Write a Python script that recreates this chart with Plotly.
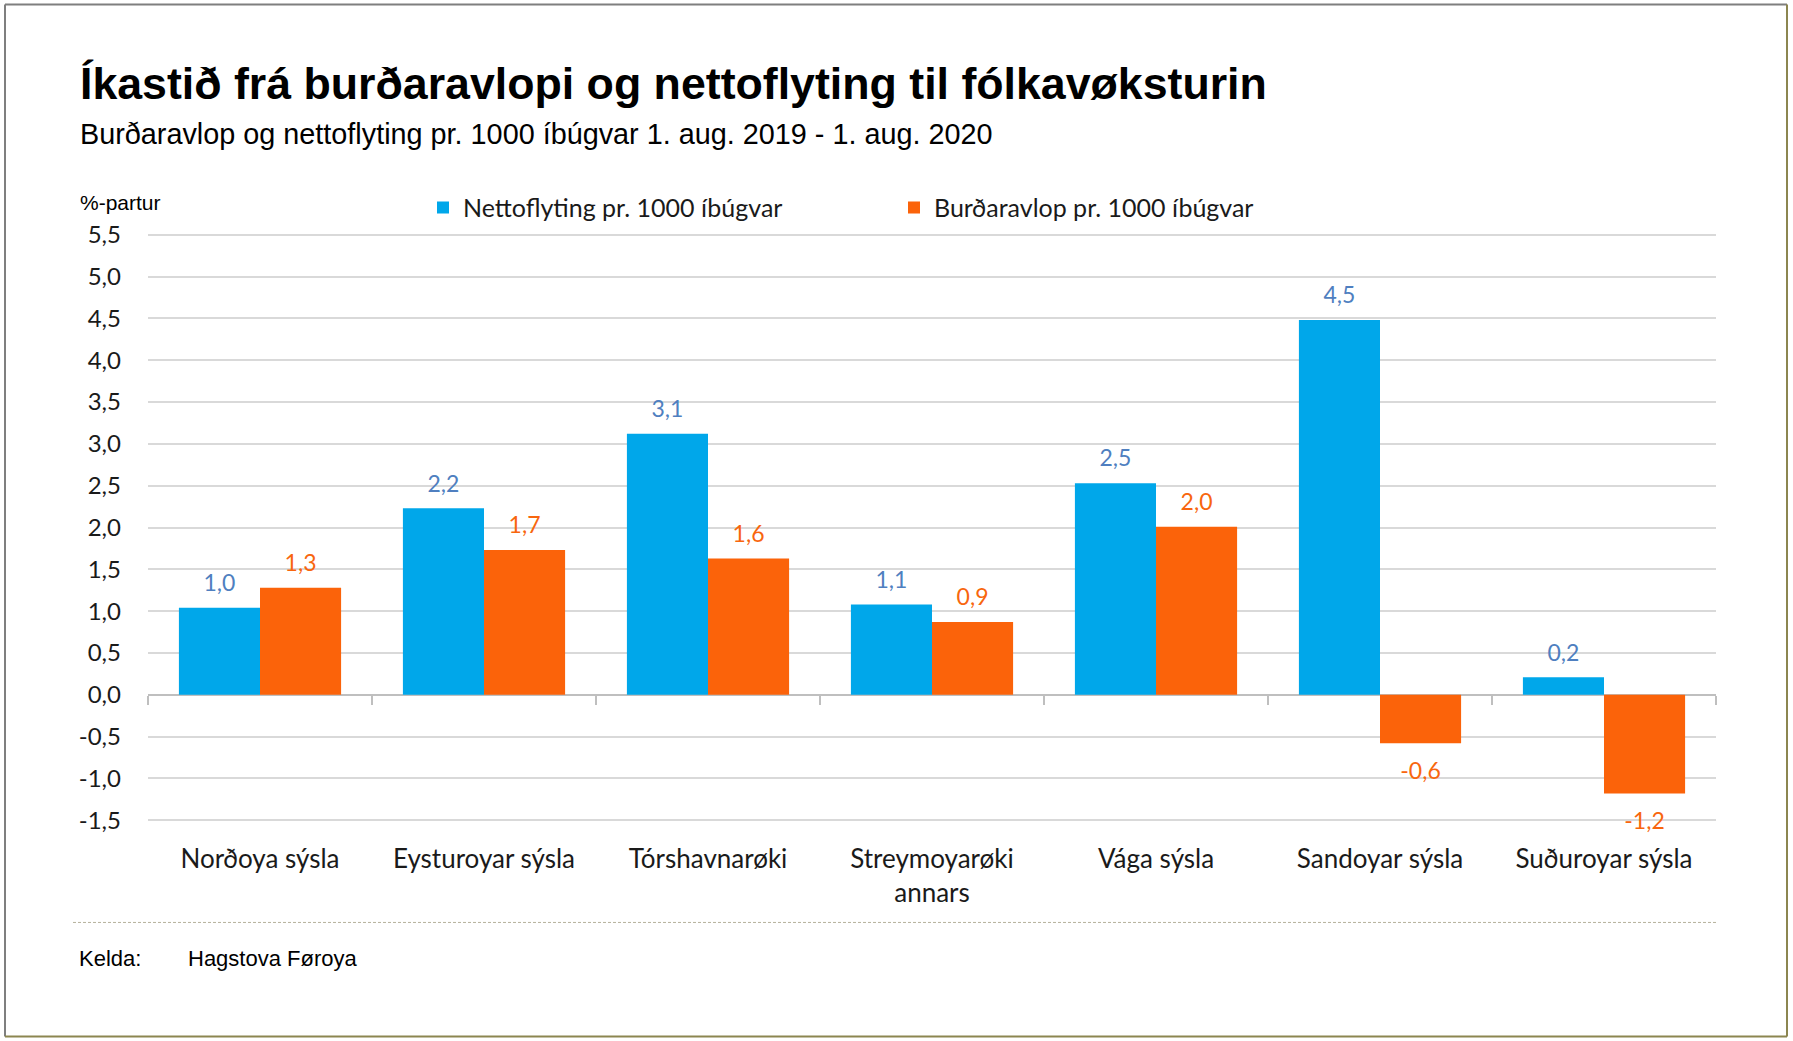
import plotly.graph_objects as go

# data
categories = ["Norðoya sýsla", "Eysturoyar sýsla", "Tórshavnarøki",
              "Streymoyarøki<br>annars", "Vága sýsla", "Sandoyar sýsla",
              "Suðuroyar sýsla"]
netto = [1.04, 2.23, 3.12, 1.08, 2.53, 4.48, 0.21]
burd = [1.28, 1.73, 1.63, 0.87, 2.01, -0.58, -1.18]
series_names = ["Nettoflyting pr. 1000 íbúgvar", "Burðaravlop pr. 1000 íbúgvar"]
y_ticks = [-1.5, -1.0, -0.5, 0.0, 0.5, 1.0, 1.5, 2.0, 2.5, 3.0, 3.5, 4.0, 4.5, 5.0, 5.5]

title = "Íkastið frá burðaravlopi og nettoflyting til fólkavøksturin"
subtitle = "Burðaravlop og nettoflyting pr. 1000 íbúgvar 1. aug. 2019 - 1. aug. 2020"

W, H = 1793, 1041
# pixel box of the -1.5 .. 5.5 span in the original
GRID_TOP, GRID_BOT = 235, 820
# plotly drops gridlines sitting exactly on the range ends, so pad a little
Y_LO, Y_HI, PAD = -1.5, 5.5, 0.02
pad_px = PAD * (GRID_BOT - GRID_TOP) / (Y_HI - Y_LO)
L, R = 148, 77
T, B = GRID_TOP - pad_px, H - GRID_BOT - pad_px
pw, ph = W - L - R, H - T - B
y_min, y_max = Y_LO - PAD, Y_HI + PAD


def px_x(x):
    return (x - L) / pw


def px_y(y):
    return (H - B - y) / ph


def fmt(v):
    # comma decimals and a plain hyphen for negatives, as in the original
    return f"{v:.1f}".replace(".", ",")


BLUE = "#00A7EA"
ORANGE = "#FB630A"
BLUE_TXT = "#4F7FC0"
ORANGE_TXT = "#F8660E"
LABEL_FONT = "Lato, Open Sans, sans-serif"
ARIAL = "Liberation Sans, Arial, sans-serif"

bar_w = 0.362
x_pos = list(range(len(categories)))

fig = go.Figure()
for vals, name, col, off in [(netto, series_names[0], BLUE, -bar_w),
                             (burd, series_names[1], ORANGE, 0)]:
    fig.add_trace(go.Bar(x=x_pos, y=vals, name=name, width=bar_w, offset=off,
                         marker=dict(color=col, line=dict(width=0)),
                         hoverinfo="y"))

# value labels, a bit away from the bar ends
for vals, col, shift in [(netto, BLUE_TXT, -bar_w / 2), (burd, ORANGE_TXT, bar_w / 2)]:
    fig.add_trace(go.Scatter(
        x=[x + shift for x in x_pos], y=vals, mode="markers+text",
        text=[fmt(v) for v in vals],
        textposition=["top center" if v >= 0 else "bottom center" for v in vals],
        marker=dict(size=[16 if v >= 0 else 28 for v in vals], opacity=0),
        textfont=dict(family=LABEL_FONT, size=23, color=col),
        showlegend=False, hoverinfo="skip", cliponaxis=False))

# empty trace so the boundary-tick axis gets drawn
fig.add_trace(go.Scatter(x=[], y=[], xaxis="x2", showlegend=False, hoverinfo="skip"))

fig.update_layout(
    width=W, height=H,
    margin=dict(l=L, r=R, t=T, b=B),
    paper_bgcolor="white", plot_bgcolor="white",
    barmode="overlay",
    title=dict(text=f"<b>{title}</b>", xref="container", yref="container",
               x=80 / W, y=1 - 83 / H, xanchor="left", yanchor="middle",
               font=dict(family=ARIAL, size=44.7, color="#000000")),
    legend=dict(orientation="h", x=px_x(423), y=px_y(208), xanchor="left",
                yanchor="middle", entrywidth=426,
                font=dict(family=LABEL_FONT, size=25, color="#1a1a1a"),
                bgcolor="rgba(0,0,0,0)"),
    xaxis=dict(range=[-0.5, len(categories) - 0.5], tickvals=x_pos,
               ticktext=categories, ticks="", showgrid=False, zeroline=False,
               showline=False, ticklabelstandoff=19,
               tickfont=dict(family=LABEL_FONT, size=26, color="#1a1a1a")),
    xaxis2=dict(overlaying="x", anchor="free",
                position=(0 - y_min) / (y_max - y_min),
                range=[-0.5, len(categories) - 0.5],
                tickvals=[i - 0.5 for i in range(len(categories) + 1)],
                ticks="outside", ticklen=9, tickwidth=2, tickcolor="#BFBFBF",
                showticklabels=False, showgrid=False, zeroline=False, showline=False),
    yaxis=dict(range=[y_min, y_max], tickvals=y_ticks,
               ticktext=[fmt(v) for v in y_ticks],
               showgrid=True, gridcolor="#D9D9D9", gridwidth=2,
               zeroline=True, zerolinecolor="#BFBFBF", zerolinewidth=2,
               ticks="", ticklabelstandoff=26,
               tickfont=dict(family=LABEL_FONT, size=24, color="#1a1a1a")),
)

fig.add_annotation(text=subtitle, xref="paper", yref="paper", x=px_x(78), y=px_y(134),
                   xanchor="left", yanchor="middle", showarrow=False,
                   font=dict(family=ARIAL, size=28.8, color="#000000"))
fig.add_annotation(text="%-partur", xref="paper", yref="paper", x=px_x(78), y=px_y(203),
                   xanchor="left", yanchor="middle", showarrow=False,
                   font=dict(family=ARIAL, size=21, color="#000000"))
fig.add_annotation(text="Kelda:", xref="paper", yref="paper", x=px_x(77), y=px_y(958),
                   xanchor="left", yanchor="middle", showarrow=False,
                   font=dict(family=ARIAL, size=22, color="#000000"))
fig.add_annotation(text="Hagstova Føroya", xref="paper", yref="paper", x=px_x(186),
                   y=px_y(958), xanchor="left", yanchor="middle", showarrow=False,
                   font=dict(family=ARIAL, size=22, color="#000000"))

# dashed separator above the source line
fig.add_shape(type="line", xref="paper", yref="paper", x0=px_x(73), x1=px_x(1717),
              y0=px_y(922), y1=px_y(922),
              line=dict(color="#B5B19C", width=1, dash="3px,2px"))

# frame round the chart: grey top/left, olive bottom/right
fig.add_shape(type="line", xref="paper", yref="paper", x0=px_x(5), x1=px_x(1787),
              y0=px_y(5), y1=px_y(5), line=dict(color="#7F7F7F", width=2))
fig.add_shape(type="line", xref="paper", yref="paper", x0=px_x(5), x1=px_x(5),
              y0=px_y(5), y1=px_y(1036), line=dict(color="#7F7F7F", width=2))
fig.add_shape(type="line", xref="paper", yref="paper", x0=px_x(1787), x1=px_x(1787),
              y0=px_y(5), y1=px_y(1036), line=dict(color="#8C8650", width=2))
fig.add_shape(type="line", xref="paper", yref="paper", x0=px_x(5), x1=px_x(1787),
              y0=px_y(1036), y1=px_y(1036), line=dict(color="#8C8650", width=2))

# drop the page's default body margin so the figure sits at the window corner
fig.write_html("out.html", config={"displayModeBar": False},
               post_script="document.body.style.margin = '0';")
